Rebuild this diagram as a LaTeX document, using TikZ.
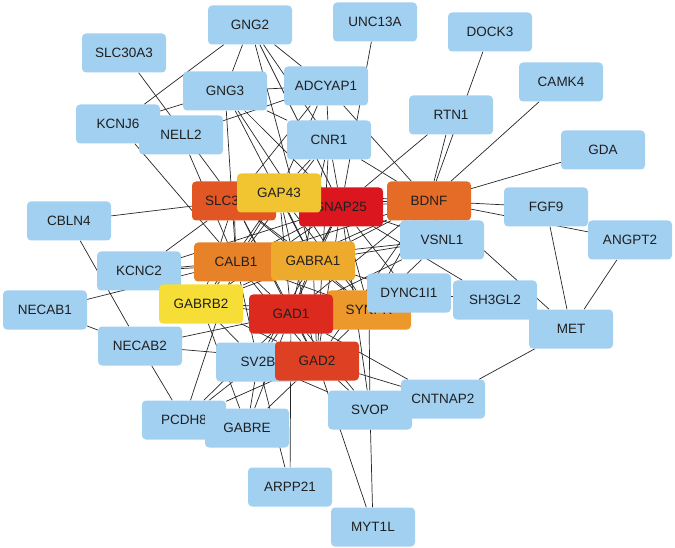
\documentclass[tikz,border=0pt]{standalone}
\usepackage{fontspec}
\setmainfont{Liberation Sans}
\usetikzlibrary{backgrounds}
\definecolor{nb}{RGB}{162,208,241}
\definecolor{cSNAP}{RGB}{220,22,30}
\definecolor{cGADa}{RGB}{221,42,30}
\definecolor{cGADb}{RGB}{222,64,35}
\definecolor{cSLC}{RGB}{225,86,35}
\definecolor{cBDNF}{RGB}{228,108,38}
\definecolor{cCALB}{RGB}{232,130,40}
\definecolor{cSYN}{RGB}{236,152,42}
\definecolor{cGABRA}{RGB}{238,170,45}
\definecolor{cGAP}{RGB}{241,196,50}
\definecolor{cGABRB}{RGB}{246,222,55}
\begin{document}
\begin{tikzpicture}[x=1pt,y=-1pt,
  gene/.style={rectangle, rounded corners=4pt, minimum width=84pt, minimum height=39pt,
    inner sep=0pt, fill=nb, text=black!88, font=\fontsize{13.5}{15}\selectfont},
  link/.style={draw=black!85, line width=0.7pt}]
\useasboundingbox (0,0) rectangle (675,548);
% nodes (later ones drawn on top)
\node[gene] (GNG2) at (250,25) {GNG2};
\node[gene] (SLC30A3) at (124,53) {SLC30A3};
\node[gene] (UNC13A) at (375,22) {UNC13A};
\node[gene] (DOCK3) at (490,32) {DOCK3};
\node[gene] (GNG3) at (225,91) {GNG3};
\node[gene] (ADCYAP1) at (326,86) {ADCYAP1};
\node[gene] (CAMK4) at (561,82) {CAMK4};
\node[gene] (KCNJ6) at (118,124) {KCNJ6};
\node[gene] (NELL2) at (181,135) {NELL2};
\node[gene] (RTN1) at (451,115) {RTN1};
\node[gene] (CNR1) at (329,140) {CNR1};
\node[gene] (GDA) at (603,150) {GDA};
\node[gene, fill=cSLC] (SLC32A1) at (234,201) {SLC32A1};
\node[gene, fill=cSNAP] (SNAP25) at (341,207) {SNAP25};
\node[gene, fill=cGAP] (GAP43) at (279,193) {GAP43};
\node[gene, fill=cBDNF] (BDNF) at (429,201) {BDNF};
\node[gene] (FGF9) at (546,207) {FGF9};
\node[gene] (ANGPT2) at (630,240) {ANGPT2};
\node[gene] (CBLN4) at (69,221) {CBLN4};
\node[gene] (VSNL1) at (442,240) {VSNL1};
\node[gene, fill=cCALB] (CALB1) at (236,262) {CALB1};
\node[gene, fill=cGABRA] (GABRA1) at (313,261) {GABRA1};
\node[gene] (KCNC2) at (139,271) {KCNC2};
\node[gene, fill=cSYN] (SYNPR) at (369,310) {SYNPR};
\node[gene] (DYNC1I1) at (409,293) {DYNC1I1};
\node[gene] (SH3GL2) at (495,300) {SH3GL2};
\node[gene] (MET) at (571,329) {MET};
\node[gene, fill=cGABRB] (GABRB2) at (201,304) {GABRB2};
\node[gene] (NECAB1) at (45,310) {NECAB1};
\node[gene, fill=cGADa] (GAD1) at (291,314) {GAD1};
\node[gene] (NECAB2) at (140,346) {NECAB2};
\node[gene] (SV2B) at (258,362) {SV2B};
\node[gene, fill=cGADb] (GAD2) at (317,361) {GAD2};
\node[gene] (SVOP) at (370,410) {SVOP};
\node[gene] (CNTNAP2) at (443,399) {CNTNAP2};
\node[gene] (PCDH8) at (184,420) {PCDH8};
\node[gene] (GABRE) at (247,428) {GABRE};
\node[gene] (ARPP21) at (290,487) {ARPP21};
\node[gene] (MYT1L) at (373,527) {MYT1L};
% connectors
\begin{scope}[on background layer]
\foreach \a/\b in {
  UNC13A/SNAP25, DOCK3/BDNF, RTN1/BDNF, RTN1/SNAP25, CAMK4/BDNF, GDA/BDNF,
  BDNF/FGF9, BDNF/ANGPT2, BDNF/MET, FGF9/MET, ANGPT2/MET, MET/CNTNAP2,
  SNAP25/SH3GL2, DYNC1I1/SH3GL2, GAD1/CNTNAP2, GAD2/CNTNAP2, GAD2/MYT1L,
  SVOP/MYT1L, SYNPR/SVOP, SNAP25/SVOP, SV2B/SVOP, GAD2/SVOP, GAD1/SVOP,
  GAD1/ARPP21, SV2B/ARPP21, SV2B/GABRE, SV2B/PCDH8, GABRB2/GABRE, GAD1/GABRE,
  GAD2/GABRE, CALB1/PCDH8, NECAB2/PCDH8, GAD1/PCDH8, GAD2/PCDH8, NECAB2/GAD1,
  NECAB2/GAD2, NECAB1/NECAB2, NECAB1/CALB1, CBLN4/NECAB2, CBLN4/SLC32A1,
  KCNC2/CALB1, KCNC2/GABRA1, KCNC2/SNAP25, KCNC2/SLC32A1, KCNJ6/CALB1,
  GNG2/KCNJ6, GNG3/KCNJ6, GNG2/GNG3, GNG2/ADCYAP1, GNG2/SNAP25, GNG2/CNR1,
  GNG2/GABRA1, GNG3/ADCYAP1, GNG3/CALB1, GNG3/SNAP25, GNG3/GABRA1, GNG3/CNR1,
  GNG3/SYNPR, NELL2/ADCYAP1, NELL2/CALB1, SLC30A3/SLC32A1, ADCYAP1/CNR1,
  ADCYAP1/BDNF, ADCYAP1/SLC32A1, ADCYAP1/GAP43, CNR1/SNAP25, CNR1/BDNF,
  CNR1/CALB1, CNR1/GAD1, CNR1/GAD2, CNR1/GAP43, GABRA1/VSNL1, SNAP25/VSNL1,
  GAD1/VSNL1, SYNPR/VSNL1, CALB1/VSNL1, BDNF/VSNL1, SNAP25/DYNC1I1,
  GAD1/DYNC1I1, GABRA1/DYNC1I1, SV2B/GAD1, SV2B/SNAP25, SV2B/GABRB2, SV2B/CALB1,
  SNAP25/GAD1, SNAP25/GAD2, SNAP25/SLC32A1, SNAP25/BDNF, SNAP25/CALB1,
  SNAP25/SYNPR, SNAP25/GABRA1, SNAP25/GAP43, SNAP25/GABRB2,
  GAD1/GAD2, GAD1/SLC32A1, GAD1/BDNF, GAD1/CALB1, GAD1/SYNPR, GAD1/GABRA1,
  GAD1/GAP43, GAD1/GABRB2,
  GAD2/SLC32A1, GAD2/BDNF, GAD2/CALB1, GAD2/SYNPR, GAD2/GABRA1, GAD2/GAP43,
  GAD2/GABRB2,
  SLC32A1/BDNF, SLC32A1/CALB1, SLC32A1/SYNPR, SLC32A1/GABRA1, SLC32A1/GAP43,
  SLC32A1/GABRB2,
  BDNF/CALB1, BDNF/SYNPR, BDNF/GABRA1, BDNF/GAP43, BDNF/GABRB2,
  CALB1/SYNPR, CALB1/GABRA1, CALB1/GAP43, CALB1/GABRB2,
  SYNPR/GABRA1, SYNPR/GAP43, SYNPR/GABRB2,
  GABRA1/GAP43, GABRA1/GABRB2, GAP43/GABRB2}
  \draw[link] (\a) -- (\b);
\end{scope}
\end{tikzpicture}
\end{document}
